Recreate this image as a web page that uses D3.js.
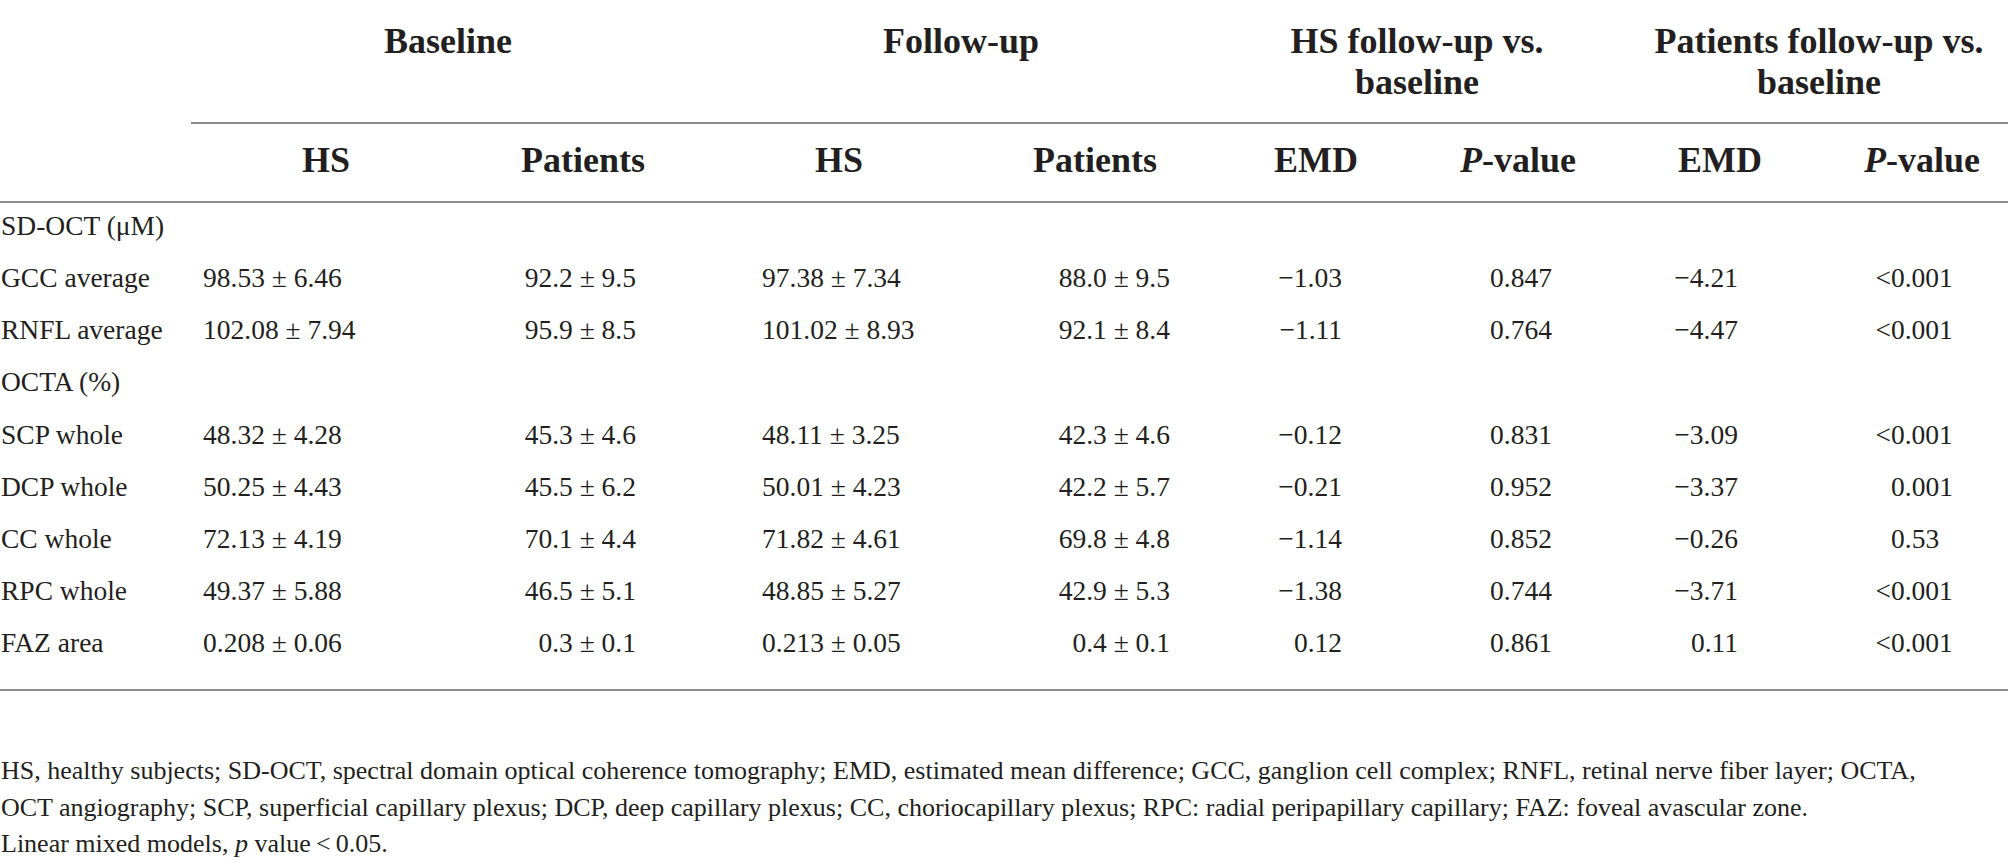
<!DOCTYPE html>
<html>
<head>
<meta charset="utf-8">
<script src="https://cdn.jsdelivr.net/npm/d3@7"></script>
<style>
  body { margin: 0; background: #fff; }
  svg text { font-family: "Liberation Serif", "DejaVu Serif", serif; fill: #231f20; }
</style>
</head>
<body>
<div id="table"></div>
<script>
//data
var groupHeads = [["Baseline"], ["Follow-up"], ["HS follow-up vs.", "baseline"], ["Patients follow-up vs.", "baseline"]];
var subHeads = ["HS", "Patients", "HS", "Patients", "EMD", "P-value", "EMD", "P-value"];
var rowLabels = ["SD-OCT (μM)", "GCC average", "RNFL average", "OCTA (%)", "SCP whole", "DCP whole", "CC whole", "RPC whole", "FAZ area"];
var hsBaseline = [null, "98.53 ± 6.46", "102.08 ± 7.94", null, "48.32 ± 4.28", "50.25 ± 4.43", "72.13 ± 4.19", "49.37 ± 5.88", "0.208 ± 0.06"];
var patBaseline = [null, "92.2 ± 9.5", "95.9 ± 8.5", null, "45.3 ± 4.6", "45.5 ± 6.2", "70.1 ± 4.4", "46.5 ± 5.1", "0.3 ± 0.1"];
var hsFollowup = [null, "97.38 ± 7.34", "101.02 ± 8.93", null, "48.11 ± 3.25", "50.01 ± 4.23", "71.82 ± 4.61", "48.85 ± 5.27", "0.213 ± 0.05"];
var patFollowup = [null, "88.0 ± 9.5", "92.1 ± 8.4", null, "42.3 ± 4.6", "42.2 ± 5.7", "69.8 ± 4.8", "42.9 ± 5.3", "0.4 ± 0.1"];
var hsEmd = [null, "−1.03", "−1.11", null, "−0.12", "−0.21", "−1.14", "−1.38", "0.12"];
var hsPvalue = [null, "0.847", "0.764", null, "0.831", "0.952", "0.852", "0.744", "0.861"];
var patEmd = [null, "−4.21", "−4.47", null, "−3.09", "−3.37", "−0.26", "−3.71", "0.11"];
var patPvalue = [null, "<0.001", "<0.001", null, "<0.001", "0.001", "0.53", "<0.001", "<0.001"];
var footLines = [
  "HS, healthy subjects; SD-OCT, spectral domain optical coherence tomography; EMD, estimated mean difference; GCC, ganglion cell complex; RNFL, retinal nerve fiber layer; OCTA,",
  "OCT angiography; SCP, superficial capillary plexus; DCP, deep capillary plexus; CC, choriocapillary plexus; RPC: radial peripapillary capillary; FAZ: foveal avascular zone."
];

//layout
var W = 2008, H = 867;
var area = {
      font_head: 36,
      font_body: 27.5,
      font_foot: 26,
      line_c: "#8c8c8c",
      line_w: 2
    },
    // column anchor: how each body column is aligned (left / right / at the "0." of the number)
    cols = [
      {head: 326, align: "left", x: 203},
      {head: 583, align: "right", x: 636},
      {head: 839, align: "left", x: 762},
      {head: 1095, align: "right", x: 1170},
      {head: 1316, align: "right", x: 1342},
      {head: 1518, align: "left", x: 1490},
      {head: 1720, align: "right", x: 1738},
      {head: 1922, align: "dec", x: 1891}
    ],
    groupX = [448, 961, 1417, 1819];
var columns = [hsBaseline, patBaseline, hsFollowup, patFollowup, hsEmd, hsPvalue, patEmd, patPvalue];

var y = d3.scaleLinear().domain([0, rowLabels.length - 1]).range([235, 652]);
var yFoot = d3.scaleLinear().domain([0, 2]).range([779, 852]);

var svg = d3.select("#table").append("svg").attr("width", W).attr("height", H);

//rules
var rules = [[191, 123], [0, 202], [0, 690]];
svg.selectAll("line.rule").data(rules).enter().append("line").attr("class", "rule")
   .attr("x1", function(d) { return d[0]; }).attr("x2", W)
   .attr("y1", function(d) { return d[1]; }).attr("y2", function(d) { return d[1]; })
   .attr("stroke", area.line_c).attr("stroke-width", area.line_w);

//group headers
groupHeads.forEach(function(g, i) {
  var t = svg.append("text").attr("x", groupX[i]).attr("y", 53).attr("text-anchor", "middle")
             .attr("font-size", area.font_head).attr("font-weight", "bold");
  g.forEach(function(s, k) {
    t.append("tspan").attr("x", groupX[i]).attr("dy", k == 0 ? 0 : 41).text(s);
  });
});

//sub headers
subHeads.forEach(function(s, i) {
  var t = svg.append("text").attr("x", cols[i].head).attr("y", 172).attr("text-anchor", "middle")
             .attr("font-size", area.font_head).attr("font-weight", "bold");
  if (s.indexOf("P-") == 0) {
    t.append("tspan").attr("font-style", "italic").text("P");
    t.append("tspan").text(s.slice(1));
  } else {
    t.text(s);
  }
});

//row labels
svg.selectAll("text.lab").data(rowLabels).enter().append("text").attr("class", "lab")
   .attr("x", 1).attr("y", function(d, i) { return y(i); })
   .attr("font-size", area.font_body).text(function(d) { return d; });

//measure helper for decimal alignment
var probe = svg.append("text").attr("font-size", area.font_body).attr("opacity", 0);
function textW(s) {
  probe.text(s);
  return probe.node().getComputedTextLength();
}

//body cells
columns.forEach(function(vals, c) {
  var spec = cols[c];
  vals.forEach(function(v, r) {
    if (v == null) return;
    var x = spec.x, anchor = "start";
    if (spec.align == "right") anchor = "end";
    if (spec.align == "dec") {
      var pre = v.slice(0, v.indexOf("0."));
      x = spec.x - (pre.length ? textW(pre) : 0);
    }
    svg.append("text").attr("class", "cell").attr("x", x).attr("y", y(r))
       .attr("text-anchor", anchor).attr("font-size", area.font_body).text(v);
  });
});
probe.remove();

//footnotes
footLines.forEach(function(s, i) {
  svg.append("text").attr("x", 1).attr("y", yFoot(i)).attr("font-size", area.font_foot).text(s);
});
var last = svg.append("text").attr("x", 1).attr("y", yFoot(2)).attr("font-size", area.font_foot);
last.append("tspan").text("Linear mixed models, ");
last.append("tspan").attr("font-style", "italic").text("p");
last.append("tspan").text(" value\u2009<\u20090.05.");
</script>
</body>
</html>
